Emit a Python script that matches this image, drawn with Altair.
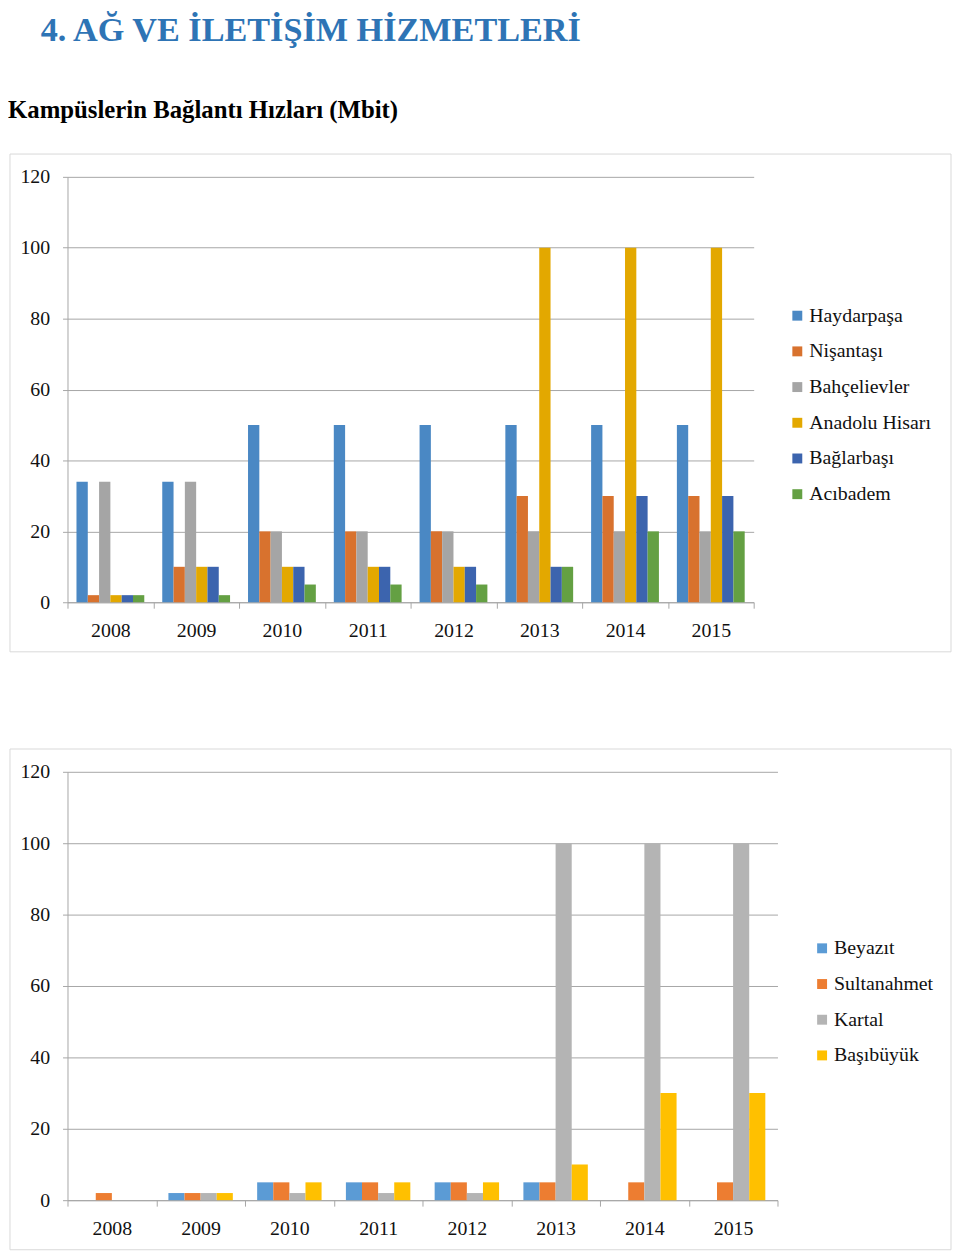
import altair as alt
import pandas as pd

# ---------------- data ----------------
years = ["2008", "2009", "2010", "2011", "2012", "2013", "2014", "2015"]

top_series = ["Haydarpaşa", "Nişantaşı", "Bahçelievler", "Anadolu Hisarı", "Bağlarbaşı", "Acıbadem"]
haydarpasa = [34, 34, 50, 50, 50, 50, 50, 50]
nisantasi = [2, 10, 20, 20, 20, 30, 30, 30]
bahcelievler = [34, 34, 20, 20, 20, 20, 20, 20]
anadolu_hisari = [2, 10, 10, 10, 10, 100, 100, 100]
baglarbasi = [2, 10, 10, 10, 10, 10, 30, 30]
acibadem = [2, 2, 5, 5, 5, 10, 20, 20]
top_values = [haydarpasa, nisantasi, bahcelievler, anadolu_hisari, baglarbasi, acibadem]
top_colors = ["#4A88C4", "#D8722E", "#A5A5A5", "#E3A800", "#3C64AE", "#64A043"]

bottom_series = ["Beyazıt", "Sultanahmet", "Kartal", "Başıbüyük"]
beyazit = [0, 2, 5, 5, 5, 5, 0, 0]
sultanahmet = [2, 2, 5, 5, 5, 5, 5, 5]
kartal = [0, 2, 2, 2, 2, 100, 100, 100]
basibuyuk = [0, 2, 5, 5, 5, 10, 30, 30]
bottom_values = [beyazit, sultanahmet, kartal, basibuyuk]
bottom_colors = ["#5B9BD5", "#ED7D31", "#B4B4B4", "#FFC000"]

y_ticks = [0, 20, 40, 60, 80, 100, 120]

heading_text = "4. AĞ VE İLETİŞİM HİZMETLERİ"
subheading_text = "Kampüslerin Bağlantı Hızları (Mbit)"

FONT = "Liberation Serif"
GRID = "#A6A6A6"
LABEL = "#111111"


def long_df(series, values):
    rows = []
    for s, vals in zip(series, values):
        for y, v in zip(years, vals):
            rows.append({"year": y, "series": s, "value": v})
    return pd.DataFrame(rows)


df_top = long_df(top_series, top_values)
df_bottom = long_df(bottom_series, bottom_values)


def frame(x2, y2):
    return alt.Chart(pd.DataFrame({"k": [0]})).mark_rect(
        fill="white", fillOpacity=0, stroke="#D9D9D9", strokeWidth=1
    ).encode(x=alt.value(-58), x2=alt.value(x2), y=alt.value(-23), y2=alt.value(y2))


def bars(df, series, colors, pad_outer, legend_x, legend_y):
    return alt.Chart(df).mark_bar().encode(
        x=alt.X(
            "year:N", sort=years,
            scale=alt.Scale(paddingInner=0, paddingOuter=0),
            axis=alt.Axis(title=None, labelAngle=0, tickBand="extent", tickSize=6,
                          labelPadding=13, grid=False, labelFont=FONT, labelFontSize=20,
                          labelColor=LABEL),
        ),
        xOffset=alt.XOffset("series:N", sort=series,
                            scale=alt.Scale(paddingInner=0, paddingOuter=pad_outer)),
        y=alt.Y(
            "value:Q",
            scale=alt.Scale(domain=[0, 120], nice=False),
            axis=alt.Axis(title=None, values=y_ticks, grid=True, tickSize=5, labelPadding=13,
                          labelFont=FONT, labelFontSize=20, labelColor=LABEL),
        ),
        color=alt.Color(
            "series:N", sort=series,
            scale=alt.Scale(domain=series, range=colors),
            legend=alt.Legend(title=None, orient="none", legendX=legend_x, legendY=legend_y,
                              symbolType="square", symbolSize=100, symbolStrokeWidth=0,
                              labelFont=FONT, labelFontSize=20, labelColor=LABEL,
                              labelOffset=2, rowPadding=16),
        ),
    )


head1 = alt.Chart(pd.DataFrame({"t": [heading_text]})).mark_text(
    align="left", baseline="alphabetic", font=FONT, fontWeight="bold",
    fontSize=34.5, color="#2E74B5"
).encode(x=alt.value(-27), y=alt.value(-137), text="t:N")

head2 = alt.Chart(pd.DataFrame({"t": [subheading_text]})).mark_text(
    align="left", baseline="alphabetic", font=FONT, fontWeight="bold",
    fontSize=25, color="#000000"
).encode(x=alt.value(-60), y=alt.value(-59), text="t:N")

top = alt.layer(
    frame(891, 479), head1, head2,
    bars(df_top, top_series, top_colors, 0.795, 726, 130),
).properties(width=692, height=429)

bottom = alt.layer(
    frame(891, 482),
    bars(df_bottom, bottom_series, bottom_colors, 0.755, 751, 168),
).properties(width=716, height=432)

chart = alt.vconcat(top, bottom, spacing=96).resolve_scale(
    color="independent", x="independent", xOffset="independent"
).configure(
    padding=0,
).configure_view(
    stroke=None
).configure_axis(
    labelFont=FONT, labelFontSize=20, labelColor=LABEL,
    domainColor=GRID, tickColor=GRID, gridColor=GRID, domainWidth=1, gridWidth=1,
)

chart.save("out.html", embed_options={"renderer": "svg", "actions": False})
